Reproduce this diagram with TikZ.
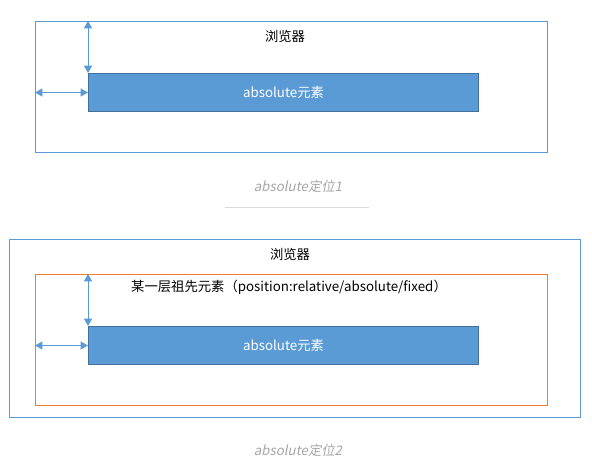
\documentclass[tikz,border=0pt]{standalone}
\usepackage{fontspec}
\setmainfont{Noto Sans CJK SC}
\newfontfamily\capfont[FakeSlant=0.2]{Noto Sans CJK SC}
\usetikzlibrary{arrows.meta}
\definecolor{boxblue}{HTML}{5B9BD5}
\definecolor{boxedge}{HTML}{41719C}
\definecolor{ancestor}{HTML}{ED7D31}
\definecolor{capgray}{HTML}{A6A6A6}
\definecolor{rulegray}{HTML}{D9D9D9}

\begin{document}
\begin{tikzpicture}[x=0.75pt, y=-0.75pt,
  size/.style 2 args={minimum width=#1*0.75pt, minimum height=#2*0.75pt},
  browser/.style={draw=boxblue, line width=0.75pt, anchor=north west, inner sep=0pt},
  parentbox/.style={draw=ancestor, line width=0.75pt, anchor=north west, inner sep=0pt},
  elem/.style={draw=boxedge, fill=boxblue, line width=0.75pt, anchor=north west, inner sep=0pt, text=white},
  gap/.style={draw=boxblue, line width=0.75pt, {Triangle[length=5.5pt,width=6pt]}-{Triangle[length=5.5pt,width=6pt]}},
  caption/.style={text=capgray, font=\capfont\fontsize{10}{12}\selectfont}]

  \fontsize{10}{12}\selectfont

  \useasboundingbox (0,0) rectangle (592,462);

  %% absolute 1
  \node[browser, size={512}{131}] (browserA) at (35,21) {};
  \node (titleA) at (285,36) {浏览器};
  \node[elem, size={390}{38}] (elemA) at (88,73) {absolute元素};

  \draw[gap] (elemA.north west) -- (elemA.north west |- browserA.north);
  \draw[gap] (elemA.west) -- (elemA.west -| browserA.west);

  \node[caption] (capA) at (298,186) {absolute定位1};
  \draw[rulegray, line width=0.75pt] (225,207) -- (369,207);

  %% absolute 2
  \node[browser, size={571}{178}] (browserB) at (9,239) {};
  \node (titleB) at (290,254) {浏览器};
  \node[parentbox, size={512}{131}] (parentB) at (35,274) {};
  \node (ancB) at (289,287) {某一层祖先元素（position:relative/absolute/fixed）};
  \node[elem, size={390}{38}] (elemB) at (88,326) {absolute元素};

  \draw[gap] (elemB.north west) -- (elemB.north west |- parentB.north);
  \draw[gap] (elemB.west) -- (elemB.west -| parentB.west);

  \node[caption] (capB) at (298,450) {absolute定位2};
\end{tikzpicture}
\end{document}
